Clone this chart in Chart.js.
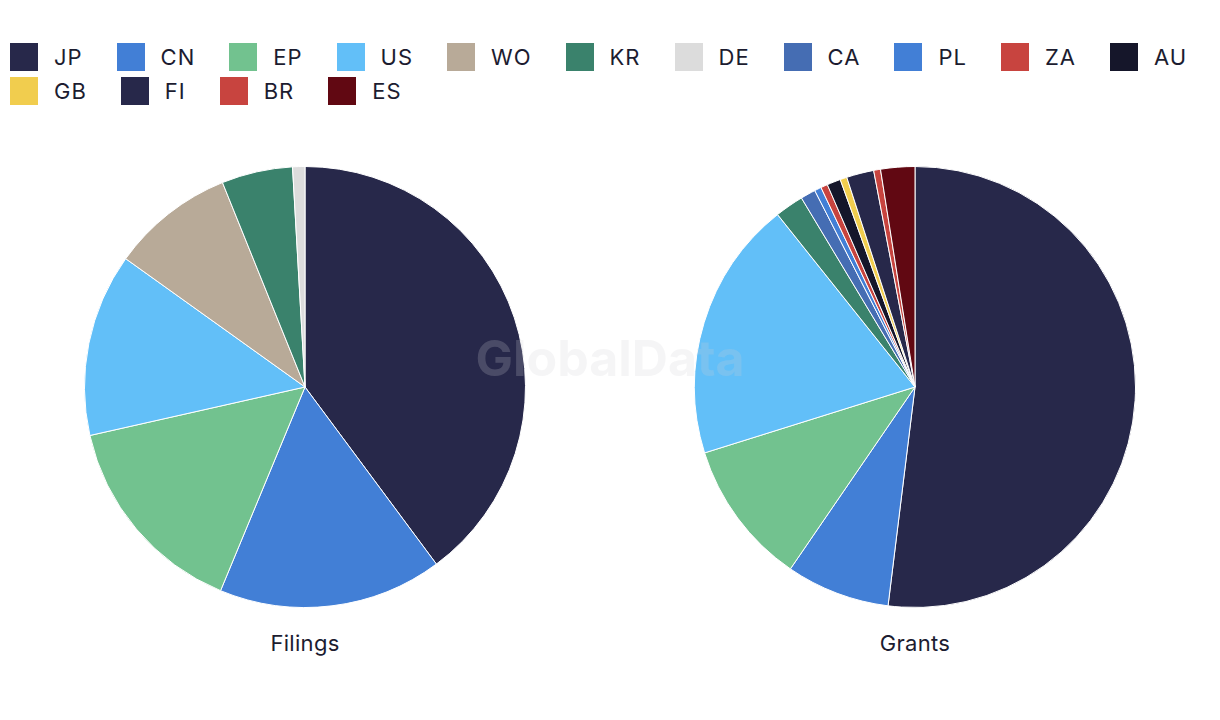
<!DOCTYPE html>
<html lang="en">
<head>
    <meta charset="UTF-8">
    <title>Filings and Grants by Country</title>
    <style>
        body {
            margin: 0;
            background: #ffffff;
            font-family: Inter, "Noto Sans", Arial, sans-serif;
            color: #1c1c30;
            width: 1220px;
            height: 720px;
            position: relative;
            overflow: hidden;
        }
        #legend {
            position: absolute;
            left: 10px;
            top: 43px;
            width: 1205px;
            display: flex;
            flex-wrap: wrap;
            row-gap: 6px;
            column-gap: 34px;
        }
        .item {
            display: flex;
            align-items: center;
            font-size: 22px;
            letter-spacing: 1px;
            height: 28px;
        }
        .box {
            width: 28px;
            height: 28px;
            margin-right: 16px;
        }
        .pie {
            position: absolute;
            top: 166px;
            width: 610px;
            height: 442px;
        }
        .title {
            position: absolute;
            top: 630px;
            width: 610px;
            text-align: center;
            font-size: 22px;
            letter-spacing: 0.3px;
        }
        #watermark {
            position: absolute;
            left: 0;
            width: 1220px;
            top: 328px;
            text-align: center;
            font-size: 50px;
            font-weight: 700;
            color: rgba(207, 207, 212, 0.21);
            pointer-events: none;
        }
    </style>
</head>
<body>
    <div id="legend"></div>
    <div class="pie" style="left:0"><canvas id="filings"></canvas></div>
    <div class="pie" style="left:610px"><canvas id="grants"></canvas></div>
    <div class="title" style="left:0">Filings</div>
    <div class="title" style="left:610px">Grants</div>
    <div id="watermark">GlobalData</div>

    <script src="https://cdn.jsdelivr.net/npm/chart.js"></script>
    <script>
        // legend order (all countries)
        const countries = ['JP', 'CN', 'EP', 'US', 'WO', 'KR', 'DE', 'CA', 'PL', 'ZA', 'AU', 'GB', 'FI', 'BR', 'ES'];

        // share of total, %
        const filingsLabels = ['JP', 'CN', 'EP', 'US', 'WO', 'KR', 'DE'];
        const filingsValues = [39.8, 16.4, 15.2, 13.4, 9.0, 5.2, 0.9];

        const grantsLabels = ['JP', 'CN', 'EP', 'US', 'KR', 'CA', 'PL', 'ZA', 'AU', 'GB', 'FI', 'BR', 'ES'];
        const grantsValues = [51.9, 7.6, 10.6, 19.1, 2.1, 1.1, 0.5, 0.5, 1.0, 0.5, 2.0, 0.5, 2.5];

        const colorMap = {
            JP: '#27284a', CN: '#427fd6', EP: '#72c28f', US: '#62bff8', WO: '#b8aa98',
            KR: '#3a826c', DE: '#dcdcdc', CA: '#456db3', PL: '#427fd6', ZA: '#c8443f',
            AU: '#15162a', GB: '#f1cd4e', FI: '#27284a', BR: '#c8443f', ES: '#610812'
        };

        const legend = document.getElementById('legend');
        countries.forEach(c => {
            const item = document.createElement('div');
            item.className = 'item';
            item.innerHTML = `<span class="box" style="background:${colorMap[c]}"></span><span>${c}</span>`;
            legend.appendChild(item);
        });

        function makePie(id, labels, values) {
            new Chart(document.getElementById(id), {
                type: 'pie',
                data: {
                    labels: labels,
                    datasets: [{
                        data: values,
                        backgroundColor: labels.map(l => colorMap[l]),
                        borderColor: '#ffffff',
                        borderWidth: 1
                    }]
                },
                options: {
                    responsive: true,
                    maintainAspectRatio: false,
                    animation: false,
                    layout: { padding: 0 },
                    plugins: {
                        legend: { display: false },
                        tooltip: { enabled: false }
                    }
                }
            });
        }

        makePie('filings', filingsLabels, filingsValues);
        makePie('grants', grantsLabels, grantsValues);
    </script>
</body>
</html>
